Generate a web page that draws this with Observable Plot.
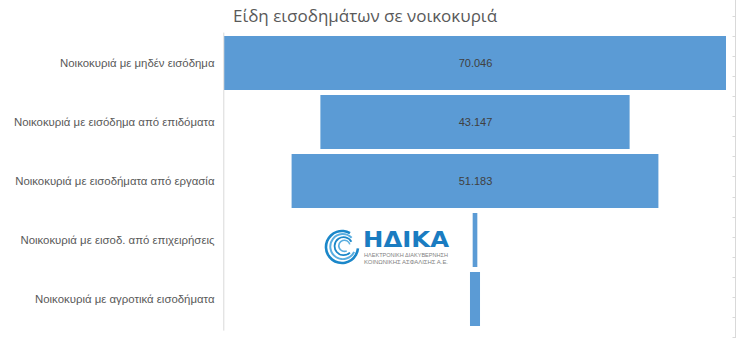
<!DOCTYPE html>
<html>
<head>
<meta charset="utf-8">
<script src="https://cdn.jsdelivr.net/npm/d3@7"></script>
<script src="https://cdn.jsdelivr.net/npm/@observablehq/plot@0.6"></script>
<style>
  html, body { margin: 0; padding: 0; background: #fff; }
  #wrap { position: relative; width: 738px; height: 338px; overflow: hidden; }
  #title { position: absolute; left: 0; width: 730px; top: 4px; text-align: center;
    font-family: "Open Sans", sans-serif; font-size: 17px; color: #595959; font-weight: 400; }
  #chart { position: absolute; left: 0; top: 0; }
  #deco { position: absolute; left: 0; top: 0; }
</style>
</head>
<body>
<div id="wrap">
  <div id="chart"></div>
  <div id="title">Είδη εισοδημάτων σε νοικοκυριά</div>
  <svg id="deco" width="738" height="338"></svg>
</div>
<script>
// ---- data ----
const categories = [
  "Νοικοκυριά με μηδέν εισόδημα",
  "Νοικοκυριά με εισόδημα από επιδόματα",
  "Νοικοκυριά με εισοδήματα από εργασία",
  "Νοικοκυριά με εισοδ. από επιχειρήσεις",
  "Νοικοκυριά με αγροτικά εισοδήματα"
];
const values = [70046, 43147, 51183, 650, 1400];
const showLabel = [true, true, true, false, false];

const grLocale = d3.formatLocale({decimal: ",", thousands: ".", grouping: [3], currency: ["", " €"]});
const fmt = grLocale.format(",d");

const data = categories.map((c, i) => ({cat: c, v: values[i], show: showLabel[i]}));
const half = d3.max(values) / 2;

const plot = Plot.plot({
  width: 738,
  height: 338,
  marginLeft: 224,
  marginRight: 12,
  marginTop: 32.6,
  marginBottom: 7.4,
  style: {fontFamily: "'Liberation Sans', Arial, sans-serif", fontSize: "11.4px", color: "#595959", background: "transparent"},
  x: {domain: [-half, half], axis: null},
  y: {domain: categories, paddingInner: 0.077, paddingOuter: 0.04, label: null},
  marks: [
    Plot.barX(data, {y: "cat", x1: d => -d.v / 2, x2: d => d.v / 2, fill: "#5b9bd5", inset: 0}),
    Plot.ruleX([-half], {stroke: "#d9d9d9", strokeWidth: 1, dx: -0.7}),
    Plot.axisY({tickSize: 0, tickPadding: 10, fill: "#595959", label: null}),
    Plot.text(data.filter(d => d.show), {y: "cat", x: 0, text: d => fmt(d.v), fill: "#404040", fontSize: 11})
  ]
});
document.getElementById("chart").appendChild(plot);

// ---- decoration: right-edge axis stub and logo ----
const deco = d3.select("#deco");
deco.append("line").attr("x1", 735.5).attr("x2", 735.5).attr("y1", 0).attr("y2", 338)
  .attr("stroke", "#d9d9d9").attr("stroke-width", 1);
d3.range(16, 338, 20.06).forEach(y => {
  deco.append("line").attr("x1", 732.5).attr("x2", 735.5).attr("y1", Math.round(y) + 0.5).attr("y2", Math.round(y) + 0.5)
    .attr("stroke", "#d9d9d9").attr("stroke-width", 1);
});

// logo
const logo = deco.append("g").attr("transform", "translate(342,247)");
[[16, 2.6], [12.5, 2.0], [9, 1.8], [5.6, 1.6]].forEach(([r, w], i) => {
  const a0 = (95 + i * 20) * Math.PI / 180, a1 = (390 + i * 15) * Math.PI / 180;
  const arc = d3.arc().innerRadius(r - w / 2).outerRadius(r + w / 2).startAngle(a0).endAngle(a1);
  logo.append("path").attr("d", arc()).attr("fill", i % 2 ? "#5aaee0" : "#1b87c9")
    .attr("transform", `translate(${i * 0.8},${-i * 0.4})`);
});
deco.append("text").attr("x", 363).attr("y", 247).text("ΗΔΙΚΑ")
  .attr("font-family", "'DejaVu Sans', sans-serif").attr("font-weight", "bold").attr("font-size", 21)
  .attr("fill", "#1a7cc1").attr("textLength", 86).attr("lengthAdjust", "spacingAndGlyphs");
deco.append("text").attr("x", 364).attr("y", 257).text("ΗΛΕΚΤΡΟΝΙΚΗ ΔΙΑΚΥΒΕΡΝΗΣΗ")
  .attr("font-family", "'Liberation Sans', sans-serif").attr("font-size", 5.2).attr("fill", "#7f7f7f")
  .attr("textLength", 84).attr("lengthAdjust", "spacingAndGlyphs");
deco.append("text").attr("x", 364).attr("y", 263.5).text("ΚΟΙΝΩΝΙΚΗΣ ΑΣΦΑΛΙΣΗΣ Α.Ε.")
  .attr("font-family", "'Liberation Sans', sans-serif").attr("font-size", 5.2).attr("fill", "#7f7f7f")
  .attr("textLength", 84).attr("lengthAdjust", "spacingAndGlyphs");
</script>
</body>
</html>
